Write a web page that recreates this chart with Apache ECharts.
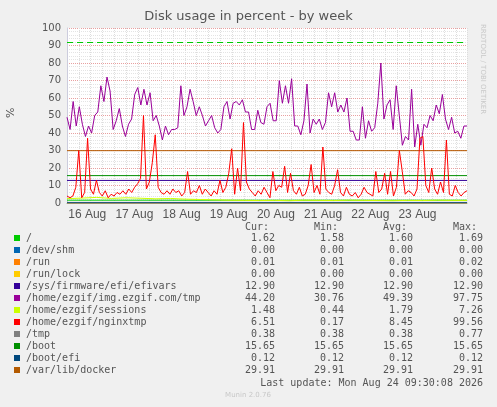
<!DOCTYPE html>
<html><head><meta charset="utf-8">
<script src="https://cdn.jsdelivr.net/npm/echarts@6/dist/echarts.min.js"></script>
<style>html,body{margin:0;background:#f0f0f0}#c{width:497px;height:407px}</style>
</head><body><div id="c"></div>
<script>
const dayLabels = ['16 Aug','17 Aug','18 Aug','19 Aug','20 Aug','21 Aug','22 Aug','23 Aug'];
const spanHours = 203.5;
const firstLabelHour = 10.3;
const imgTmp = [49,42,58,44,55,45,38,44,40,50,52,67,58,72,64,42,47,54,44,38,45,48,62,66,56,65,56,63,47,50,44,36,44,39,42,42,43,67,50,55,65,58,50,55,50,44,47,50,43,40,42,55,58,48,57,58,56,59,52,52,42,42,53,46,45,55,57,47,47,70,57,67,57,71,44,44,39,47,68,40,48,45,48,42,46,63,55,63,52,56,52,60,41,41,36,36,55,37,47,41,43,57,80,48,56,59,42,67,50,33,38,36,65,32,45,33,45,43,50,47,56,51,62,48,42,49,40,41,37,44,44];
const nginxTmp = [4,3,4,9,30,3,6,37,8,5,13,6,4,7,3,5,4,6,5,7,5,8,6,9,11,14,50,8,12,23,39,9,6,5,7,5,8,6,7,4,6,18,5,7,6,10,5,8,6,4,7,5,13,6,9,17,31,5,20,7,46,12,8,6,4,7,5,9,6,3,18,7,10,9,21,6,17,7,5,9,4,5,10,22,6,10,5,32,8,6,5,10,19,6,4,9,5,4,6,3,5,9,6,5,4,18,6,8,17,5,18,4,9,30,18,5,7,6,4,8,37,38,10,6,20,8,5,12,6,36,5,4,10,6,4,6,7];
const sessions = [2.5,2.8,3.2,2.6,3.0,2.7,2.4,2.6,2.2,2.0,1.8,1.6,1.5,1.4,1.5,1.3,1.6,1.5,1.4,1.6,1.5,1.4,1.3,1.5,1.4,1.6,1.5,1.48];
const names = ['/','/dev/shm','/run','/run/lock','/sys/firmware/efi/efivars','/home/ezgif/img.ezgif.com/tmp','/home/ezgif/sessions','/home/ezgif/nginxtmp','/tmp','/boot','/boot/efi','/var/lib/docker'];
const colors = ['#00cc00','#0066b3','#ff8000','#ffcc00','#330099','#990099','#ccff00','#ff0000','#808080','#008f00','#00487d','#b35a00'];
const constVals = [1.6,0,0.01,0,12.9,null,null,null,0.38,15.65,0.12,29.91];
const cur = ['1.62','0.00','0.01','0.00','12.90','44.20','1.48','6.51','0.38','15.65','0.12','29.91'];
const mins = ['1.58','0.00','0.01','0.00','12.90','30.76','0.44','0.17','0.38','15.65','0.12','29.91'];
const avgs = ['1.60','0.00','0.01','0.00','12.90','49.39','1.79','8.45','0.38','15.65','0.12','29.91'];
const maxs = ['1.69','0.00','0.02','0.00','12.90','97.75','7.26','99.56','0.77','15.65','0.12','29.91'];
const warnLevel = 92;

function spread(arr){ const dt = spanHours/(arr.length-1); return arr.map((v,i)=>[i*dt,v]); }
const series = [];
names.forEach((n,i)=>{
  let data;
  if (i===5) data = spread(imgTmp);
  else if (i===6) data = spread(sessions);
  else if (i===7) data = spread(nginxTmp);
  else data = [[0,constVals[i]],[spanHours,constVals[i]]];
  series.push({type:'line',name:n,data,showSymbol:false,silent:true,
    lineStyle:{color:colors[i],width:1},itemStyle:{color:colors[i]},z:i===5||i===7?3:2});
});
series.push({type:'line',data:[],markLine:{silent:true,symbol:'none',label:{show:false},
  lineStyle:{color:'#00cc00',type:[6,4],width:1},data:[{yAxis:warnLevel}]}});
const labelHours = dayLabels.map((d,i)=>firstLabelHour+24*i);

const F='DejaVu Sans', M='DejaVu Sans Mono';
const g=[];
g.push({type:'text',left:'center',top:10,style:{text:'Disk usage in percent - by week',font:'13px '+F,fill:'#555'}});
g.push({type:'text',x:6,y:118,rotation:Math.PI/2,style:{text:'%',font:'11px '+F,fill:'#555'}});
g.push({type:'text',x:486,y:24,rotation:-Math.PI/2,style:{text:'RRDTOOL / TOBI OETIKER',font:'7px '+F,fill:'#c8c8c8'}});
const cols=[275,344,413,483], heads=['Cur:','Min:','Avg:','Max:'];
heads.forEach((h,j)=>g.push({type:'text',x:cols[j]-6,y:222,style:{text:h,font:'10px '+M,fill:'#555',align:'right'}}));
names.forEach((n,i)=>{
  const y=234+i*12;
  g.push({type:'rect',shape:{x:14,y:y+1,width:6,height:6},style:{fill:colors[i]}});
  g.push({type:'text',x:26,y:y-1,style:{text:n,font:'10px '+M,fill:'#555'}});
  [cur,mins,avgs,maxs].forEach((a,j)=>g.push({type:'text',x:cols[j],y:y-1,style:{text:a[i],font:'10px '+M,fill:'#555',align:'right'}}));
});
g.push({type:'text',x:483,y:378,style:{text:'Last update: Mon Aug 24 09:30:08 2026',font:'10px '+M,fill:'#555',align:'right'}});
g.push({type:'text',x:248,y:392,style:{text:'Munin 2.0.76',font:'7px '+F,fill:'#c8c8c8',align:'center'}});

const chart=echarts.init(document.getElementById('c'));
chart.setOption({
  backgroundColor:'#f0f0f0',animation:false,
  grid:{left:67,top:28,width:400,height:175,backgroundColor:'#fff',show:true,borderWidth:0},
  xAxis:{type:'value',min:0,max:spanHours,interval:6,
    axisLine:{lineStyle:{color:'#aaa'}},axisTick:{show:false},
    splitLine:{show:true,lineStyle:{color:'#ddd',type:'dotted'}},
    axisLabel:{customValues:labelHours,formatter:v=>{const k=labelHours.findIndex(h=>Math.abs(h-v)<0.01);return k>=0?dayLabels[k]:'';},
      font:'10px '+F,color:'#555',margin:6}},
  yAxis:{type:'value',min:0,max:100,interval:10,
    axisLine:{show:true,lineStyle:{color:'#ccd'}},axisTick:{show:false},
    splitLine:{lineStyle:{color:'#e8a0a0',type:'dotted'}},
    minorTick:{show:false},minorSplitLine:{show:true,lineStyle:{color:'#e4e4e4',type:'dotted'}},
    axisLabel:{fontFamily:F,fontSize:10,color:'#555',margin:6}},
  series,graphic:g
});
</script></body></html>
